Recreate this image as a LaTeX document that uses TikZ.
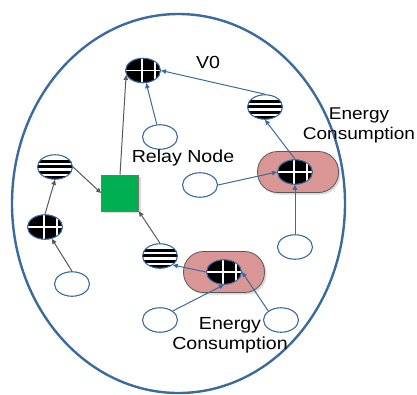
\documentclass[tikz,border=0pt]{standalone}
\usepackage{fontspec}
\setmainfont{Liberation Sans}[FakeStretch=1.12]
\usetikzlibrary{shapes.geometric,arrows.meta,shadows}
\definecolor{edgeblue}{HTML}{3B6A9E}
\definecolor{capsulepink}{HTML}{D99694}
\definecolor{relaygreen}{HTML}{00B050}
\tikzset{
  sensor/.style={ellipse, draw=edgeblue, line width=1.1pt, fill=white,
    minimum width=35pt, minimum height=24.5pt, inner sep=0pt},
  gridsensor/.style={sensor, fill=black, path picture={
    \draw[white, line width=1.3pt] ([xshift=-1pt]path picture bounding box.north) -- ([xshift=-1pt]path picture bounding box.south);
    \draw[white, line width=1.3pt] ([xshift=12pt]path picture bounding box.north) -- ([xshift=12pt]path picture bounding box.south);
    \draw[white, line width=1.3pt] (path picture bounding box.west) -- (path picture bounding box.east);}},
  stripesensor/.style={sensor, path picture={
    \foreach \k in {-12,-6.5,-1,4.5}
      \fill[black] ([yshift=\k pt]path picture bounding box.center) ++(-20pt,0pt) rectangle ++(40pt,3pt);}},
  capsule/.style={rectangle, rounded corners=20pt, draw=black!65, line width=0.8pt,
    fill=capsulepink, minimum width=81pt, minimum height=41pt,
    drop shadow={opacity=0.3, shadow xshift=2pt, shadow yshift=-2pt}},
  relaybox/.style={rectangle, draw=black!55, line width=0.8pt, fill=relaygreen,
    minimum width=37pt, minimum height=36pt,
    drop shadow={opacity=0.3, shadow xshift=2pt, shadow yshift=-2pt}},
  txt/.style={font=\fontsize{17.5}{20}\selectfont, align=center, inner sep=0pt},
  blink/.style={edgeblue, line width=1pt, -{Triangle[length=5pt,width=4.5pt]}},
  glink/.style={black!65, line width=1pt, -{Triangle[length=5pt,width=4.5pt]}}
}
\begin{document}
\begin{tikzpicture}[x=1pt, y=-1pt]
  \useasboundingbox (0,0) rectangle (417,394);
  % field boundary
  \draw[edgeblue, line width=2.4pt] (178.5,203.5) ellipse (166.5 and 189.5);

  % capsules
  \node[capsule] (ec1) at (298,172) {};
  \node[capsule] (ec2) at (224,272) {};

  % sensors
  \node[gridsensor] (v0) at (143,70.5) {};
  \node[sensor] (n1) at (160,137) {};
  \node[stripesensor] (s1) at (265,107) {};
  \node[gridsensor] (g1) at (295,172) {};
  \node[sensor] (n2) at (200,185) {};
  \node[sensor] (n3) at (295,247) {};
  \node[stripesensor] (sL) at (55,167) {};
  \node[gridsensor] (gL) at (45,227) {};
  \node[sensor] (nL) at (72,284) {};
  \node[stripesensor] (s2) at (160,256) {};
  \node[gridsensor] (g2) at (224,272) {};
  \node[sensor] (n4) at (160,320) {};
  \node[sensor] (n5) at (281,320) {};
  \node[relaybox] (relay) at (120,193) {};

  % labels
  \node[txt] (lv0) at (208,62) {V0};
  \node[txt] (lrelay) at (183,158) {Relay Node};
  \node[txt, font=\fontsize{17}{20}\selectfont] (le1) at (359,125) {Energy\\Consumption};
  \node[txt] (le2) at (230,335) {Energy\\Consumption};

  % links
  \draw[blink] (n1) -- (v0);
  \draw[blink] (s1.north) -- (v0.east);
  \draw[blink] (g1.north) -- (s1.south);
  \draw[blink] (n2.east) -- (g1.west);
  \draw[blink] (n3.north) -- (g1.south);
  \draw[blink] (g2.west) -- (s2.south east);
  \draw[blink] (n4.north east) -- (g2.south);
  \draw[blink] (n5.north west) -- (g2.east);
  \draw[glink] (relay.north) -- (v0.195);
  \draw[glink] (sL.east) -- (relay.west);
  \draw[glink] (gL.north) -- (sL.south);
  \draw[glink] (nL.north) -- (gL.-60);
  \draw[glink] (s2.north) -- (relay.south east);
\end{tikzpicture}
\end{document}
